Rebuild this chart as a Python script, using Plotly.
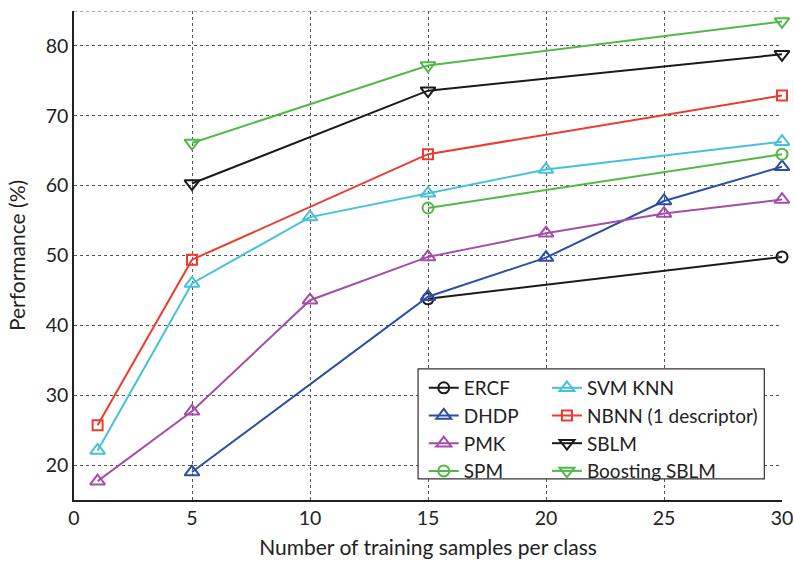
import plotly.graph_objects as go

# Data
ercf_x = [15, 30]
ercf_y = [43.8, 49.8]

dhdp_x = [5, 15, 20, 25, 30]
dhdp_y = [19.0, 44.1, 49.7, 57.8, 62.7]

pmk_x = [1, 5, 10, 15, 20, 25, 30]
pmk_y = [17.7, 27.7, 43.6, 49.8, 53.2, 56.0, 58.0]

spm_x = [15, 30]
spm_y = [56.8, 64.5]

svm_x = [1, 5, 10, 15, 20, 30]
svm_y = [22.1, 46.0, 55.5, 58.9, 62.3, 66.3]

nbnn_x = [1, 5, 15, 30]
nbnn_y = [25.7, 49.4, 64.5, 72.9]

sblm_x = [5, 15, 30]
sblm_y = [60.3, 73.6, 78.8]

boost_x = [5, 15, 30]
boost_y = [66.1, 77.2, 83.5]

x_ticks = [0, 5, 10, 15, 20, 25, 30]
y_ticks = [20, 30, 40, 50, 60, 70, 80]

FONT = "Lato"
TXT = "#222222"

series = [
    ("ERCF", ercf_x, ercf_y, "#1a1a1a", "circle-open", 11, "legend"),
    ("DHDP", dhdp_x, dhdp_y, "#2b4ea6", "triangle-up-open", 13, "legend"),
    ("PMK", pmk_x, pmk_y, "#a44ea8", "triangle-up-open", 13, "legend"),
    ("SPM", spm_x, spm_y, "#52b848", "circle-open", 11, "legend"),
    ("SVM KNN", svm_x, svm_y, "#46c1d9", "triangle-up-open", 13, "legend2"),
    ("NBNN (1 descriptor)", nbnn_x, nbnn_y, "#ee3a2c", "square-open", 10, "legend2"),
    ("SBLM", sblm_x, sblm_y, "#1a1a1a", "triangle-down-open", 13, "legend2"),
    ("Boosting SBLM", boost_x, boost_y, "#52b848", "triangle-down-open", 13, "legend2"),
]

fig = go.Figure()
for name, xs, ys, col, sym, sz, lg in series:
    fig.add_trace(go.Scatter(
        x=xs, y=ys, name=name, mode="lines+markers",
        line=dict(color=col, width=2),
        marker=dict(symbol=sym, size=sz, color=col, line=dict(color=col, width=2)),
        legend=lg, cliponaxis=False,
    ))

# legend box
fig.add_shape(type="rect", xref="paper", yref="paper",
              x0=0.486, x1=0.975, y0=0.043, y1=0.268,
              fillcolor="white", line=dict(color="#333333", width=1.2), layer="above")
# top border dotted
fig.add_shape(type="line", xref="paper", yref="y", x0=0, x1=1, y0=85, y1=85,
              line=dict(color="#555555", width=1, dash="dot"), layer="below")

fig.update_layout(
    width=794, height=563,
    margin=dict(l=74, r=12, t=11, b=63),
    paper_bgcolor="white", plot_bgcolor="white",
    font=dict(family=FONT, size=19, color=TXT),
    showlegend=True,
    legend=dict(x=0.494, y=0.268, xanchor="left", yanchor="top",
                bgcolor="rgba(0,0,0,0)", borderwidth=0,
                font=dict(family=FONT, size=19, color=TXT),
                tracegroupgap=0),
    legend2=dict(x=0.668, y=0.268, xanchor="left", yanchor="top",
                 bgcolor="rgba(0,0,0,0)", borderwidth=0,
                 font=dict(family=FONT, size=19, color=TXT),
                 tracegroupgap=0),
    xaxis=dict(range=[0, 30], tickvals=x_ticks, ticktext=[str(v) for v in x_ticks],
               showgrid=True, gridcolor="#555555", griddash="dot", gridwidth=1,
               showline=True, linecolor="#222222", linewidth=1.5,
               zeroline=False, ticks="", automargin=False,
               title=dict(text="Number of training samples per class", standoff=12,
                          font=dict(family=FONT, size=21, color=TXT)),
               tickfont=dict(family=FONT, size=19.5, color=TXT)),
    yaxis=dict(range=[15, 85], tickvals=y_ticks, ticktext=[str(v) for v in y_ticks],
               showgrid=True, gridcolor="#555555", griddash="dot", gridwidth=1,
               showline=True, linecolor="#222222", linewidth=1.5,
               zeroline=False, ticks="", automargin=False,
               title=dict(text="Performance (%)", standoff=14,
                          font=dict(family=FONT, size=21, color=TXT)),
               tickfont=dict(family=FONT, size=19.5, color=TXT)),
)

fig.write_html("out.html", config={"displayModeBar": False},
               post_script="document.body.style.margin='0';document.body.style.padding='0';")
